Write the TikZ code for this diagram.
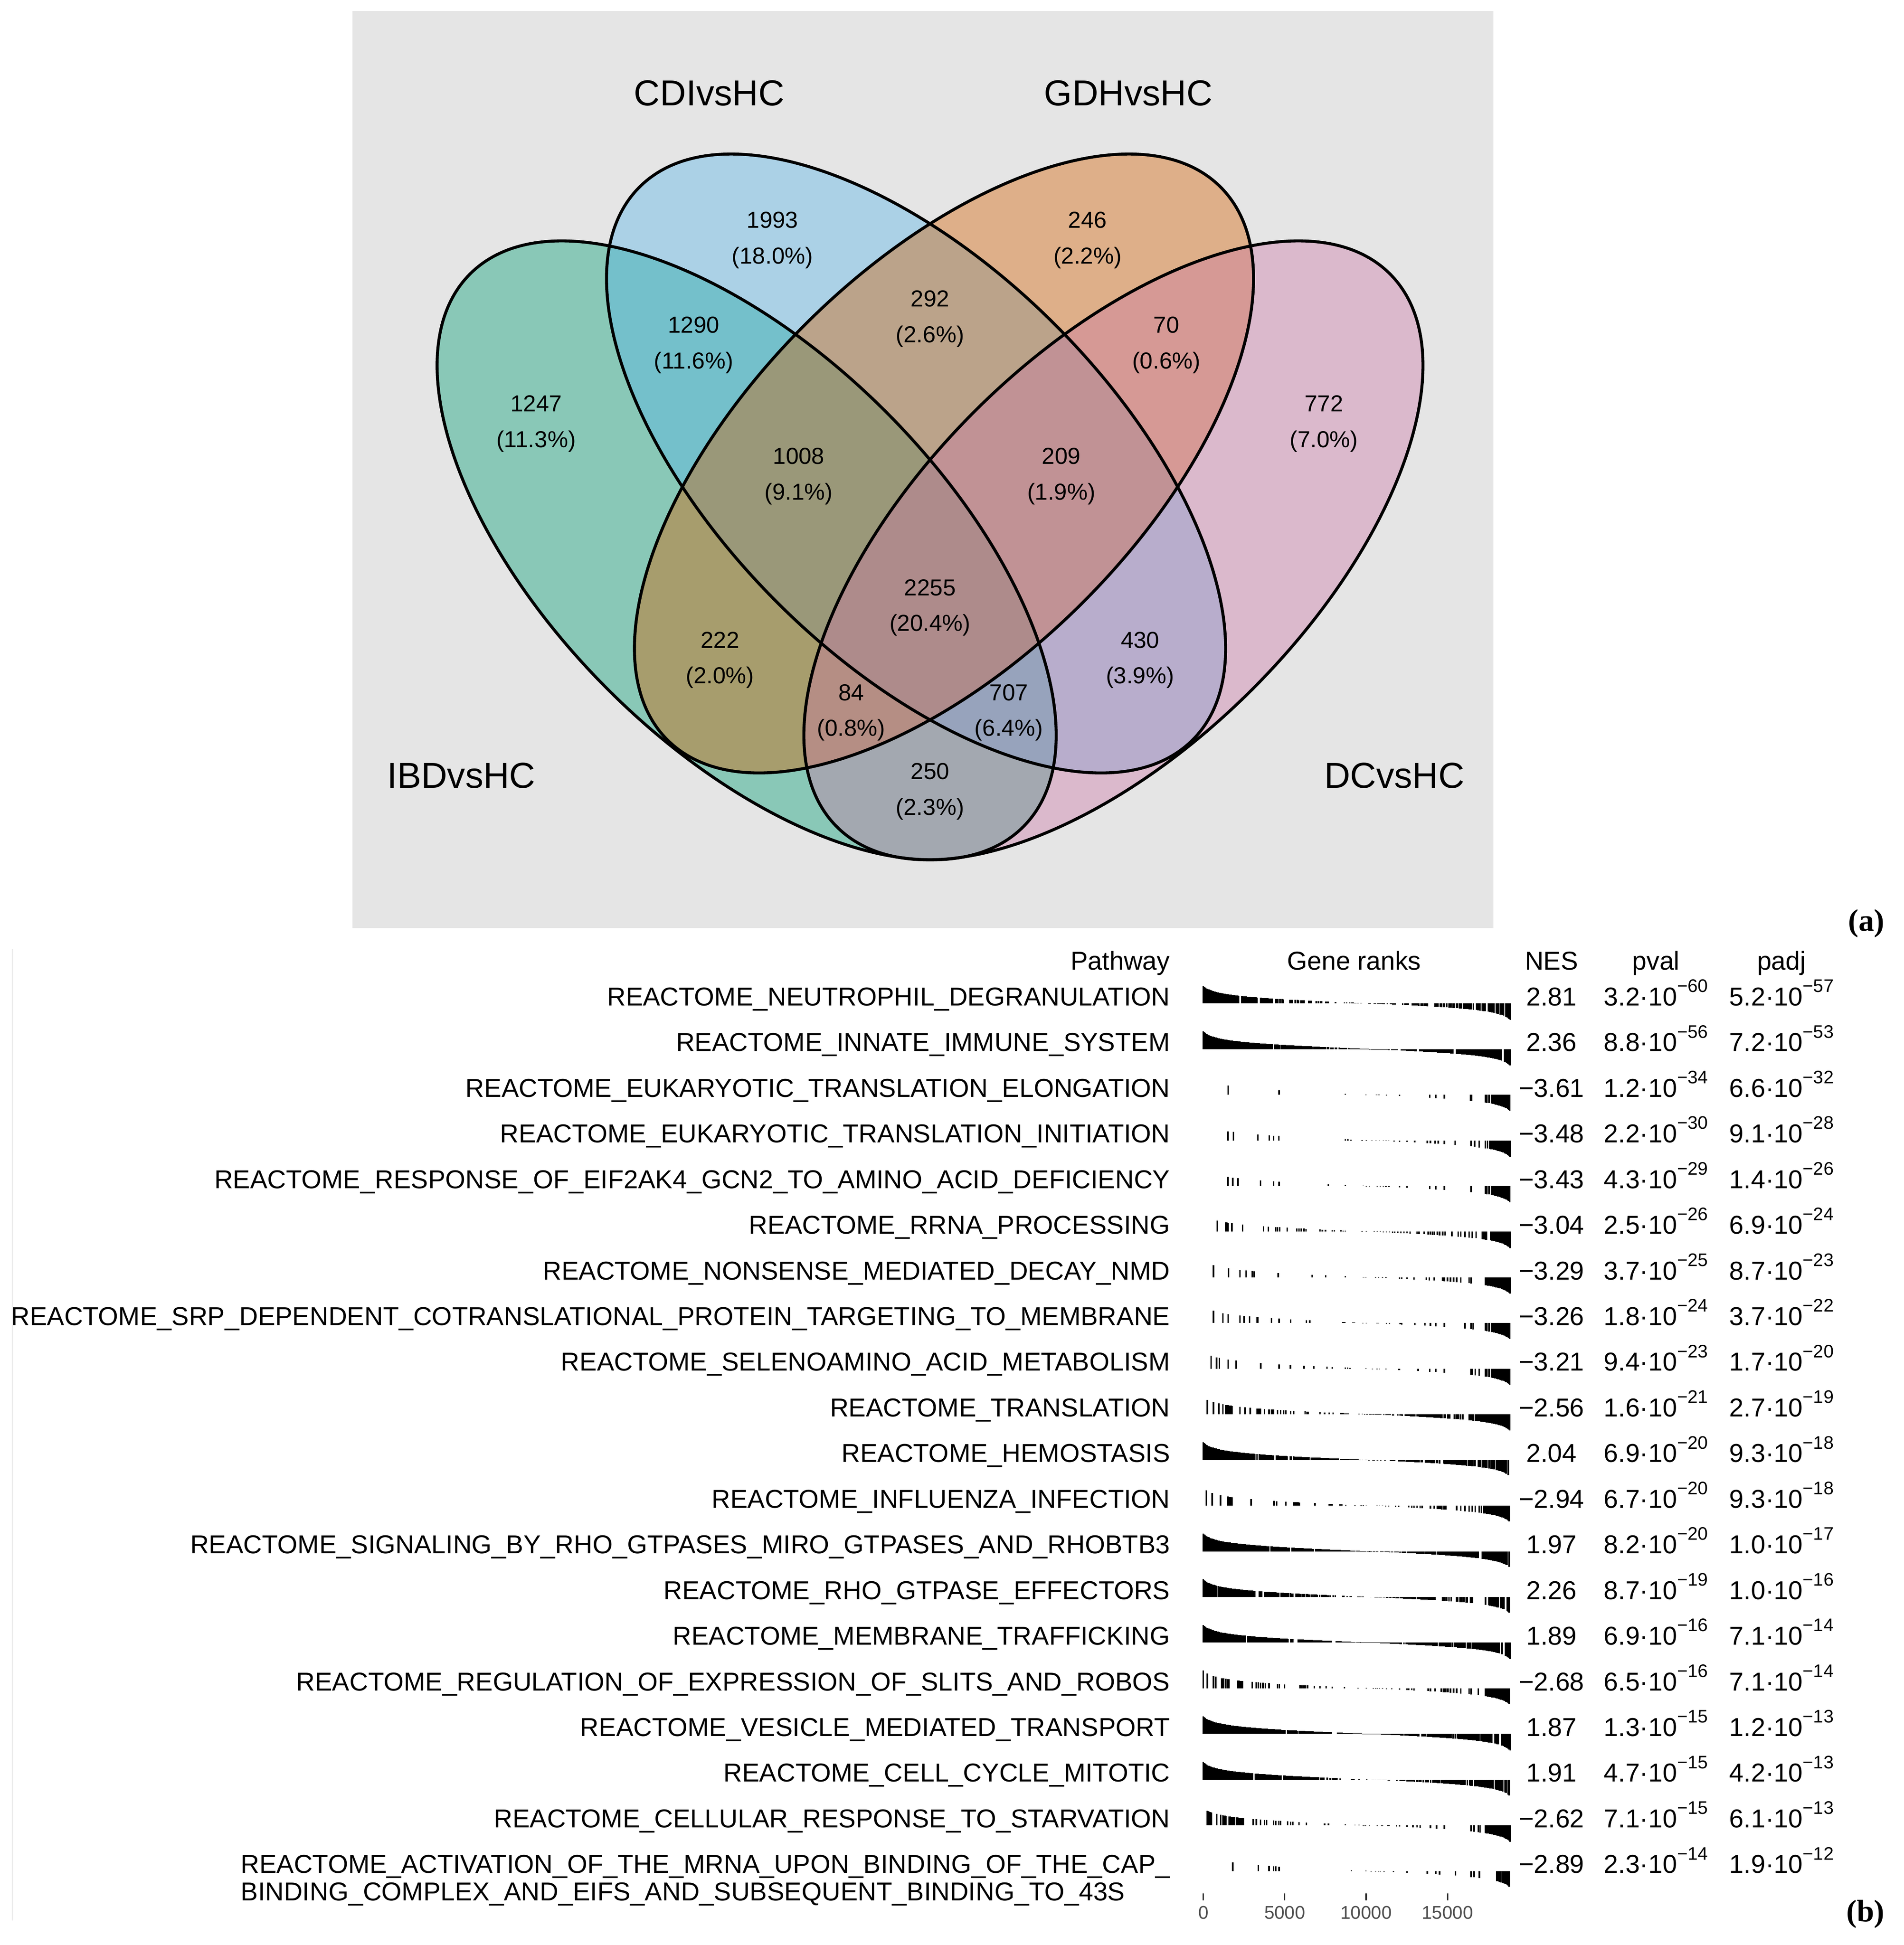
\documentclass[tikz,border=0pt]{standalone}
\usepackage{fontspec}
\setmainfont{Liberation Sans}
\newfontfamily\labelfont{Liberation Serif}
\usetikzlibrary{positioning}

\definecolor{ibd}{HTML}{009E73}
\definecolor{cdi}{HTML}{56B4E9}
\definecolor{gdh}{HTML}{D55E00}
\definecolor{dcc}{HTML}{CC79A7}
\definecolor{panelgray}{HTML}{E5E5E5}
\definecolor{axisgray}{HTML}{4D4D4D}
\definecolor{tickgray}{HTML}{333333}

% p-values as m.m x 10^-e
\newcommand\pval[2]{#1·10\raisebox{0.52em}{\fontsize{14.6}{14.6}\selectfont −#2}}

% one gene on the rank axis: #1 baseline, #2 rank in percent
\newcommand\gtick[2]{%
  \pgfmathsetmacro\gx{#2/100}%
  \pgfmathsetmacro\gh{-(3.403*ln((1.0123-\gx)/(\gx+0.0123))-0.70+2.40*\gx)}%
  \draw[rank] ({966.9+2.465*#2},#1) -- ++(0,\gh);%
}
% a run of genes from #2 to #3 percent, kept with probability #4
\newcommand\gseg[4]{%
  \pgfmathtruncatemacro\gn{(#3-#2)/0.35}%
  \foreach \k in {0,...,\gn} {%
    \pgfmathsetmacro\gp{#2+0.35*\k}%
    \pgfmathtruncatemacro\gok{rnd<#4}%
    \ifnum\gok=1 \gtick{#1}{\gp}\fi
  }%
}
\newcommand\barrow[3]{%
  \pgfmathsetmacro\by{806.5+36.7*#1}%
  \foreach \p in {#2} {\gtick{\by}{\p}}%
  \foreach \sa/\sb/\sq in {#3} {\gseg{\by}{\sa}{\sb}{\sq}}%
}

\begin{document}
\begin{tikzpicture}[x=1pt, y=-1pt,
    txt/.style={inner sep=0pt, font=\fontsize{20.8}{24}\selectfont},
    vnum/.style={inner sep=0pt, align=center, font=\fontsize{18.6}{28.7}\selectfont},
    setname/.style={inner sep=0pt, font=\fontsize{29}{34}\selectfont},
    panel/.style={inner sep=0pt, font=\labelfont\bfseries\fontsize{25}{30}\selectfont},
    rank/.style={line width=1.2pt, black},
    axlab/.style={inner sep=0pt, text=axisgray, font=\fontsize{14.8}{17}\selectfont}]
\pgfmathsetseed{4354}
\useasboundingbox (0,0) rectangle (1529.9,1563.3);

% (a) Venn diagram
\fill[panelgray] (283.2,8.8) rectangle (1200,746);
\begin{scope}[shift={(747.3,337.6)}, x=210.5pt, y=209.5pt]
    \foreach \cx/\cy/\ang/\col in {-0.7/-0.5/45/ibd, -0.0533/-0.1667/45/cdi,
                                  0.0533/-0.1667/-45/gdh, 0.7/-0.5/-45/dcc}
        \fill[\col, fill opacity=0.4, rotate around={\ang:(\cx,\cy)}]
            (\cx,\cy) ellipse [x radius=0.75, y radius=1.5];
    \foreach \cx/\cy/\ang in {-0.7/-0.5/45, -0.0533/-0.1667/45,
                              0.0533/-0.1667/-45, 0.7/-0.5/-45}
        \draw[line width=2.4pt, rotate around={\ang:(\cx,\cy)}]
            (\cx,\cy) ellipse [x radius=0.75, y radius=1.5];
\end{scope}

% counts: the node base is the baseline of the second line
\foreach \nm/\vx/\vy/\cnt/\pct in {
        a/-1.5/0/1247/11.3, b/-0.6/0.7/1993/18.0, c/0.6/0.7/246/2.2,
        d/1.5/0/772/7.0, ab/-0.9/0.3/1290/11.6, bc/0/0.4/292/2.6,
        cd/0.9/0.3/70/0.6, ac/-0.8/-0.9/222/2.0, bd/0.8/-0.9/430/3.9,
        ad/0/-1.4/250/2.3, abc/-0.5/-0.2/1008/9.1, bcd/0.5/-0.2/209/1.9,
        acd/-0.3/-1.1/84/0.8, abd/0.3/-1.1/707/6.4, abcd/0/-0.7/2255/20.4}
    \node[vnum, anchor=base] (v\nm) at ({747.3+211*\vx},{359.6-211*\vy})
        {\cnt\\(\pct\%)};

\node[setname, anchor=base east] (ibdname) at (430.5,633.5) {IBDvsHC};
\node[setname, anchor=base] (cdiname) at (569.9,84.9) {CDIvsHC};
\node[setname, anchor=base] (gdhname) at (906.7,84.9) {GDHvsHC};
\node[setname, anchor=base west] (dcname) at (1063.8,633.5) {DCvsHC};
\node[panel, anchor=base west] (pa) at (1484.9,748.2) {(a)};

% (b) enrichment table
\draw[gray!20, line width=0.8pt] (9.8,763) -- (9.8,1543.6);
\node[txt, anchor=base east] (hpath) at (940.3,779.5) {Pathway};
\node[txt, anchor=base] (hrank) at (1088,779.5) {Gene ranks};
\node[txt, anchor=base] (hnes) at (1246.7,779.5) {NES};
\node[txt, anchor=base] (hpv) at (1330.6,779.5) {pval};
\node[txt, anchor=base] (hpadj) at (1431.5,779.5) {padj};

\foreach \nm/\nes/\pmant/\pexp/\qmant/\qexp [count=\i from 0] in {
        NEUTROPHIL\_DEGRANULATION/2.81/3.2/60/5.2/57,
        INNATE\_IMMUNE\_SYSTEM/2.36/8.8/56/7.2/53,
        EUKARYOTIC\_TRANSLATION\_ELONGATION/−3.61/1.2/34/6.6/32,
        EUKARYOTIC\_TRANSLATION\_INITIATION/−3.48/2.2/30/9.1/28,
        RESPONSE\_OF\_EIF2AK4\_GCN2\_TO\_AMINO\_ACID\_DEFICIENCY/−3.43/4.3/29/1.4/26,
        RRNA\_PROCESSING/−3.04/2.5/26/6.9/24,
        NONSENSE\_MEDIATED\_DECAY\_NMD/−3.29/3.7/25/8.7/23,
        SRP\_DEPENDENT\_COTRANSLATIONAL\_PROTEIN\_TARGETING\_TO\_MEMBRANE/−3.26/1.8/24/3.7/22,
        SELENOAMINO\_ACID\_METABOLISM/−3.21/9.4/23/1.7/20,
        TRANSLATION/−2.56/1.6/21/2.7/19,
        HEMOSTASIS/2.04/6.9/20/9.3/18,
        INFLUENZA\_INFECTION/−2.94/6.7/20/9.3/18,
        SIGNALING\_BY\_RHO\_GTPASES\_MIRO\_GTPASES\_AND\_RHOBTB3/1.97/8.2/20/1.0/17,
        RHO\_GTPASE\_EFFECTORS/2.26/8.7/19/1.0/16,
        MEMBRANE\_TRAFFICKING/1.89/6.9/16/7.1/14,
        REGULATION\_OF\_EXPRESSION\_OF\_SLITS\_AND\_ROBOS/−2.68/6.5/16/7.1/14,
        VESICLE\_MEDIATED\_TRANSPORT/1.87/1.3/15/1.2/13,
        CELL\_CYCLE\_MITOTIC/1.91/4.7/15/4.2/13,
        CELLULAR\_RESPONSE\_TO\_STARVATION/−2.62/7.1/15/6.1/13,
        ACTIVATION\_OF\_THE\_MRNA\_UPON\_BINDING\_OF\_THE\_CAP\_/−2.89/2.3/14/1.9/12} {
    \node[txt, anchor=base east] (pw\i) at (940.3,{808.3+36.7*\i}) {REACTOME\_\nm};
    \node[txt, anchor=base] (nes\i) at (1246.7,{808.3+36.7*\i}) {\nes};
    \node[txt, anchor=base] (pv\i) at (1330.6,{808.3+36.7*\i}) {\pval{\pmant}{\pexp}};
    \node[txt, anchor=base] (padj\i) at (1431.5,{808.3+36.7*\i}) {\pval{\qmant}{\qexp}};
}
\node[txt, anchor=base west] (pw19b) at ([yshift=-22pt]pw19.base west)
    {BINDING\_COMPLEX\_AND\_EIFS\_AND\_SUBSEQUENT\_BINDING\_TO\_43S};

% gene rank barcodes
\barrow{0}{0}{0/11.8/1, 12.6/17.6/1, 18.6/22.6/1, 23.6/26.2/0.8, 27.2/33/0.6,
    34.4/35.2/1, 36.8/44/0.45, 46/52/0.5, 53/62.5/0.45, 65/100/0.8}
\barrow{1}{0}{0/22.6/1, 23.3/24.8/1, 25.3/35.5/1, 36/43.5/0.9, 44.3/50/0.9,
    50/60.5/1, 61.5/63.5/1, 64.5/69.5/1, 70.5/81.5/1, 82.5/97.5/1, 98.2/100/1}
\barrow{2}{8.1, 24.7, 46.3, 53.0, 56.5, 57.2, 59.7, 64.0, 73.8, 75.8, 78.6, 87.1,
    87.4, 91.9, 92.4, 93.1}{93.9/100/1}
\barrow{3}{8.0, 9.8, 17.8, 21.5, 22.9, 24.6, 46.3, 47.1, 48.1, 51.8, 53.1, 54.9,
    56.3, 57.4, 58.7, 59.6, 60.4, 62.2, 64.0, 66.4, 68.9, 73.0, 74.0, 75.6, 76.6,
    78.6, 82.1, 87.3, 88.4, 89.9, 91.9, 92.6}{93.3/100/1}
\barrow{4}{8.0, 9.6, 11.3, 18.6, 22.9, 24.7, 40.7, 46.3, 52.1, 53.1, 54.1, 56.7,
    57.7, 58.7, 59.5, 60.5, 64.0, 66.4, 73.8, 75.8, 78.6, 87.3, 91.9, 92.4,
    93.1}{93.9/100/1}
\barrow{5}{4.5, 7.2, 7.6, 8.1, 9.3, 12.8, 19.6, 21.2, 23.6, 24.2, 24.9, 27.3, 30.5,
    31.2, 31.9, 32.8, 33.5, 38.0, 38.8, 39.8, 42.0, 42.7, 44.8, 45.6, 46.3, 51.8,
    53.1, 55.7, 56.7, 57.7, 58.7, 59.7, 60.7, 61.7, 62.4, 63.4, 64.4, 65.4, 66.4,
    67.4, 69.7, 70.3, 72.0, 73.3, 74.0, 74.7, 75.3, 76.3, 77.0, 78.0, 78.8, 81.0,
    83.1, 83.9, 85.3, 86.6, 87.6, 88.9, 93.6}{90.9/92.6/1, 94/100/1}
\barrow{6}{3.3, 8.2, 11.9, 13.9, 15.9, 16.6, 24.4, 35.5, 39.9, 46.3, 52.2, 52.9,
    56.1, 57.1, 58.4, 59.5, 64.0, 64.7, 66.4, 68.7, 72.7, 73.7, 75.3, 78.0, 78.6,
    79.6, 80.6, 81.6, 82.6, 83.9, 86.6, 87.3}{91.9/100/1}
\barrow{7}{3.3, 6.4, 8.1, 11.9, 13.3, 15.1, 17.6, 17.8, 22.2, 24.7, 28.5, 33.6,
    34.7, 45.5, 46.1, 48.8, 49.3, 52.0, 53.1, 56.6, 57.1, 59.7, 60.7, 64.2, 64.7,
    69.0, 72.2, 74.0, 75.8, 78.6, 85.3, 87.3, 87.9, 91.9, 92.4, 93.1}{93.9/100/1}
\barrow{8}{2.5, 4.3, 5.2, 8.1, 10.7, 18.7, 24.7, 28.4, 32.8, 36.0, 40.3, 42.0,
    46.3, 47.0, 47.8, 53.0, 55.1, 56.6, 57.4, 59.5, 63.7, 64.0, 70.0, 73.8, 75.8,
    78.6, 87.3, 87.6, 88.6, 89.9, 91.9, 92.4, 93.1}{93.9/100/1}
\barrow{9}{1.3, 3.3, 5.0, 6.4, 11.9, 13.6, 15.3, 19.9, 21.4, 24.2, 25.2, 28.5,
    29.5, 38.0, 39.5, 41.0, 42.3}{7.3/9.6/1, 17.6/18.9/0.8, 22.2/23.2/0.8,
    26.2/27.5/0.7, 32.8/34.8/0.7, 44.8/47.4/1, 50.8/62/0.5, 63.4/78/0.85,
    78.6/84.6/0.6, 86.6/91.2/0.9, 91.5/100/1}
\barrow{10}{0}{0/16.9/1, 17.5/17.8/1, 18.3/22.9/1, 23.8/27.5/1, 28.4/28.8/1,
    29.5/34.5/1, 35.2/39.5/1, 39.8/44.1/1, 44.8/49.8/1, 50.1/59.4/0.5,
    61/62.7/1, 63.7/100/0.85}
\barrow{11}{1.0, 2.9, 5.6, 8.0, 8.3, 15.6, 22.9, 23.2, 23.9, 26.9, 36.4, 44.5,
    45.1, 46.4, 49.4, 51.4, 52.1, 53.1, 56.6, 57.4, 58.4, 59.4, 60.4, 62.7, 63.7,
    67.0, 68.0, 68.7, 69.7, 70.7, 71.3, 74.0, 75.3, 82.6, 83.9, 85.3, 86.6, 87.6,
    88.6, 89.9, 90.6}{8.6/9.6/1, 29.5/31.5/1, 41/42.1/1, 76.3/79.3/0.9,
    91.3/100/1}
\barrow{12}{0}{0/21.6/1, 22.1/28.2/1, 28.9/36.2/1, 36.6/39.5/1, 39.8/44.1/1,
    44.5/54.7/0.9, 54.7/66/0.8, 66.7/72/1, 72.5/75.8/1, 76.2/88.8/1,
    89.2/89.6/1, 90.9/100/0.9}
\barrow{13}{0}{0/4.4/1, 4.9/9.1/1, 9.6/13.1/1, 13.6/16.9/1, 18.3/27.9/0.9,
    28.4/42.5/0.7, 43/58/0.4, 58/65/0.7, 65/75.5/0.9, 78/88/0.6, 92/100/0.8}
\barrow{14}{0}{0/13.9/1, 14.6/24.9/1, 25.2/27.9/1, 28.5/29.5/1, 30.9/41.8/1,
    43.4/49.4/1, 50.1/64.7/0.95, 65.4/87.3/0.95, 87.7/100/0.85}
\barrow{15}{0, 1.3, 3.3, 4.0, 6.0, 6.6, 7.3, 8.0, 8.4, 15.9, 17.3, 17.9, 18.6,
    19.4, 20.2, 21.4, 24.2, 24.8, 26.5, 36.2, 38.0, 40.0, 42.0, 46.0, 50.4, 53.1,
    55.4, 56.1, 56.7, 57.4, 58.4, 59.7, 61.4, 64.0, 66.4, 67.0, 68.0, 68.7, 73.3,
    74.0, 75.6, 80.6, 81.6, 82.6, 83.9, 86.6, 87.3, 89.6}{11.3/12.8/1,
    31.5/34.5/0.5, 77.6/80/0.8, 92/100/1}
\barrow{16}{0}{0/14.3/1, 14.6/24.9/1, 25.2/26.9/1, 27.5/30.9/1, 31.2/41.8/1,
    43.8/65.4/1, 65.7/100/0.92}
\barrow{17}{0}{0/16.3/1, 16.9/17.6/1, 17.9/25.5/1, 26.2/36.8/0.95,
    37.2/44.8/0.75, 48/65/0.55, 65/78/0.85, 78/100/0.92}
\barrow{18}{4.4, 16.3, 17.3, 18.6, 19.9, 20.6, 22.9, 23.6, 24.6, 25.2, 27.5, 28.5,
    29.2, 31.2, 33.6, 39.5, 40.8, 46.3, 49.4, 50.8, 52.1, 52.8, 54.1, 56.7, 63.0,
    64.0, 66.4, 68.3, 69.7, 70.7, 74.0, 76.0, 78.6, 87.3, 88.3, 89.6,
    90.2}{1.3/3.0/1, 5.3/13.3/0.7, 57.4/60.7/0.5, 91.9/100/1}
\barrow{19}{9.6, 17.9, 21.4, 22.9, 23.6, 24.7, 48.3, 53.0, 54.7, 56.1, 57.1, 57.7,
    58.9, 62.0, 66.4, 73.0, 75.8, 77.0, 82.2, 87.3, 88.3, 90.0}{95.6/97/1,
    97.6/100/1}

% rank axis
\foreach \t [count=\j from 0] in {0,5000,10000,15000} {
    \draw[tickgray, line width=1.1pt] ({966.9+65.4*\j},1521.7) -- ++(0,5.6);
    \node[axlab, anchor=base] (ax\j) at ({966.9+65.4*\j},1542.2) {\t};
}
\node[panel, anchor=base west] (pb) at (1483.5,1544.5) {(b)};
\end{tikzpicture}
\end{document}
